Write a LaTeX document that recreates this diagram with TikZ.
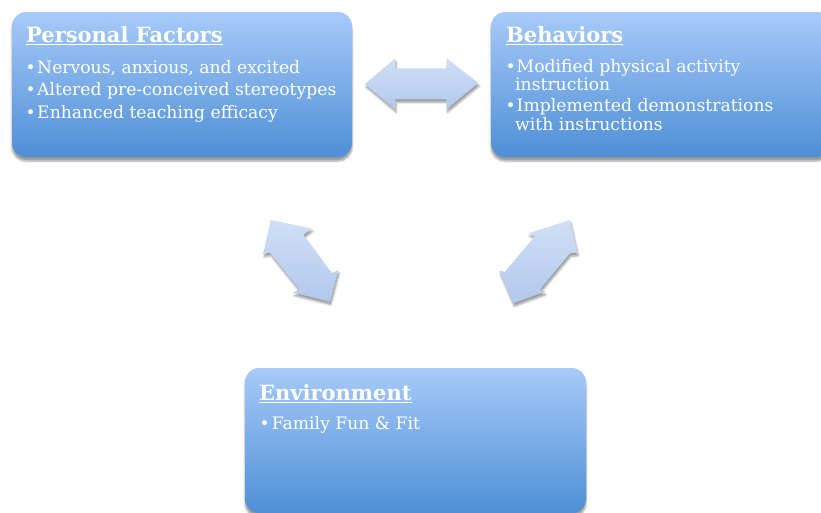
\documentclass[tikz,border=0pt]{standalone}
\usepackage{fontspec}
\setmainfont{DejaVu Serif}
\usetikzlibrary{shadows,shadows.blur}
\definecolor{boxtop}{HTML}{A7CAF9}
\definecolor{boxbot}{HTML}{4E8FD6}
\definecolor{arrtop}{HTML}{CFDFF6}
\definecolor{arrbot}{HTML}{B2C8EC}
\begin{document}
\begin{tikzpicture}[x=1pt,y=-1pt,
  box/.style={rounded corners=14pt, top color=boxtop, bottom color=boxbot, draw=none,
    blur shadow={shadow xshift=0pt, shadow yshift=-4pt}},
  barrow/.style={top color=arrtop, bottom color=arrbot, draw=none,
    blur shadow={shadow xshift=1pt, shadow yshift=-3pt}},
  title/.style={anchor=base west, inner sep=0pt, text=white, font=\fontsize{21}{24}\selectfont\bfseries},
  item/.style={anchor=base west, inner sep=0pt, text=white, font=\fontsize{17.2}{20}\selectfont},
  bul/.style={anchor=base west, inner sep=0pt, text=white, font=\fontsize{17}{20}\selectfont}]
\useasboundingbox (0,0) rectangle (821,512);
\begin{scope}
\clip (0,0) rectangle (821,512);
% boxes
\node[box, minimum width=340pt, minimum height=145pt] (pf) at (182,84.5) {};
\node[box, minimum width=340pt, minimum height=145pt] (bh) at (661,84.5) {};
\node[box, minimum width=341pt, minimum height=145pt] (en) at (415.5,440.5) {};
% arrows
\path[barrow] (365,84) -- (395,58.3) -- (395,68.3) -- (446.7,68.3) -- (446.7,58.3)
  -- (478.3,83) -- (446.7,109.3) -- (446.7,99.3) -- (395,99.3) -- (395,109.3) -- cycle;
\path[barrow] (270.7,220) -- (311.7,228.3) -- (303.3,235) -- (331.7,273.3) -- (338.3,270)
  -- (330,301.7) -- (293.3,292.7) -- (299.3,289.3) -- (270,252.7) -- (263.3,254) -- cycle;
\path[barrow] (570,220) -- (528.3,233.3) -- (535,236) -- (505,271.7) -- (499.3,270.7)
  -- (513.3,303.3) -- (545,291.7) -- (540,289.3) -- (570,253.3) -- (577.3,252.7) -- cycle;
% Personal Factors
\node[title] (pft) at (26,42) {\underline{Personal Factors}};
\node[bul] (pfb1) at (25.5,73) {•};
\node[item] (pf1) at (37,73) {Nervous, anxious, and excited};
\node[bul] (pfb2) at (25.5,95.5) {•};
\node[item] (pf2) at (37,95.5) {Altered pre-conceived stereotypes};
\node[bul] (pfb3) at (25.5,118) {•};
\node[item] (pf3) at (37,118) {Enhanced teaching efficacy};
% Behaviors
\node[title] (bht) at (506,42) {\underline{Behaviors}};
\node[bul] (bhb1) at (505.5,72.7) {•};
\node[item] (bh1) at (516.5,72.7) {Modified physical activity};
\node[item] (bh1b) at (515,90.7) {instruction};
\node[bul] (bhb2) at (505.5,111.7) {•};
\node[item] (bh2) at (516.5,111.7) {Implemented demonstrations};
\node[item] (bh2b) at (515,130) {with instructions};
% Environment
\node[title] (ent) at (259,400.5) {\underline{Environment}};
\node[bul] (enb1) at (259.5,429) {•};
\node[item] (en1) at (271.7,429) {Family Fun \& Fit};
\end{scope}
\end{tikzpicture}
\end{document}
